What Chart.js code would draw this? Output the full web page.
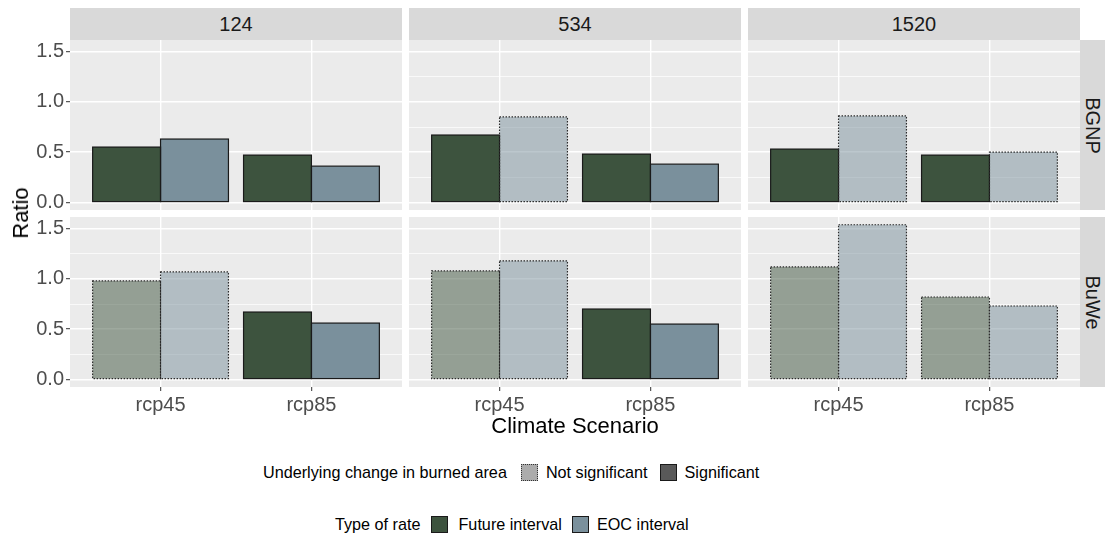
<!DOCTYPE html>
<html>
<head>
<meta charset="utf-8">
<script src="https://cdn.jsdelivr.net/npm/chart.js@4.4.1/dist/chart.umd.min.js"></script>
<style>
  body { margin: 0; background: #fff; font-family: "Liberation Sans", Arial, sans-serif; }
  #wrap { position: relative; width: 1105px; height: 537px; overflow: hidden; }
  #wrap canvas { position: absolute; }
  .strip { position: absolute; background: #d9d9d9; color: #1a1a1a; font-size: 20px;
           display: flex; align-items: center; justify-content: center; }
  .strip.right span { transform: rotate(90deg); white-space: nowrap; }
  .title { position: absolute; font-size: 22px; color: #000; white-space: nowrap; }
  .legend { position: absolute; display: flex; align-items: center; font-size: 16.2px; color: #000;
            white-space: nowrap; height: 20px; }
  .sw { display: inline-block; width: 17px; height: 17px; box-sizing: border-box; }
</style>
</head>
<body>
<div id="wrap"></div>
<script>
// facets and categories
const sites = ['124', '534', '1520'];
const regions = ['BGNP', 'BuWe'];
const scenarios = ['rcp45', 'rcp85'];
const yBreaks = [0, 0.5, 1.0, 1.5];
const yMinorBreaks = [0.25, 0.75, 1.25];

// ratio per site, each pair is [rcp45, rcp85]
const bgnpFuture = [[0.55, 0.47], [0.67, 0.48], [0.53, 0.47]];
const bgnpEoc = [[0.63, 0.36], [0.85, 0.38], [0.86, 0.50]];
const buweFuture = [[0.98, 0.67], [1.08, 0.70], [1.12, 0.82]];
const buweEoc = [[1.07, 0.56], [1.18, 0.55], [1.54, 0.73]];

// 1 = significant underlying change in burned area, 0 = not significant
const bgnpFutureSig = [[1, 1], [1, 1], [1, 1]];
const bgnpEocSig = [[1, 1], [0, 1], [0, 0]];
const buweFutureSig = [[0, 1], [0, 1], [0, 0]];
const buweEocSig = [[0, 1], [0, 1], [0, 0]];

const futureColor = '#3d533e';
const futureFaded = 'rgba(61, 83, 62, 0.5)';
const eocColor = '#7a909c';
const eocFaded = 'rgba(122, 144, 156, 0.5)';

// panel geometry (pixels)
const colLeft = [70, 409, 748];
const panelW = 332;
const rowTop = [40, 217];
const panelH = 170;

Chart.defaults.font.family = '"Liberation Sans", Arial, sans-serif';
Chart.defaults.animation = false;

const wrap = document.getElementById('wrap');

// ggplot style scale limits: 5% expansion, shared over all facets
const allValues = [bgnpFuture, bgnpEoc, buweFuture, buweEoc].flat(2);
const dataMax = Math.max(...allValues);
const yMax = dataMax * 1.05;
const yMin = -dataMax * 0.05;
const allBreaks = [...yBreaks, ...yMinorBreaks].sort((a, b) => a - b);

// grey panel background behind the grid
const panelBg = {
    id: 'panelBg',
    beforeDraw(chart) {
        const { ctx, chartArea: a } = chart;
        ctx.save();
        ctx.fillStyle = '#ebebeb';
        ctx.fillRect(a.left, a.top, a.width, a.height);
        ctx.restore();
    }
};

// bar outlines: solid when significant, dotted when not
const barOutline = {
    id: 'barOutline',
    afterDatasetsDraw(chart) {
        const ctx = chart.ctx;
        chart.data.datasets.forEach((ds, i) => {
            chart.getDatasetMeta(i).data.forEach((bar, j) => {
                const { x, y, base, width } = bar.getProps(['x', 'y', 'base', 'width'], true);
                ctx.save();
                ctx.lineWidth = 1.2;
                ctx.strokeStyle = ds.sig[j] ? '#1a1a1a' : '#2a2a2a';
                ctx.setLineDash(ds.sig[j] ? [] : [1.5, 1.5]);
                ctx.strokeRect(x - width / 2, y, width, base - y);
                ctx.restore();
            });
        });
    }
};

const makePanel = (row, col, future, futureSig, eoc, eocSig) => {
    const left = col === 0 ? 0 : colLeft[col];
    const yAxisW = colLeft[col] - left;
    const xAxisH = row === 1 ? 34 : 6;
    const canvas = document.createElement('canvas');
    canvas.width = colLeft[col] + panelW - left;
    canvas.height = panelH + xAxisH;
    canvas.style.left = left + 'px';
    canvas.style.top = rowTop[row] + 'px';
    wrap.appendChild(canvas);

    new Chart(canvas, {
        type: 'bar',
        data: {
            datasets: [{
                label: 'Future interval',
                data: future.map((v, i) => ({ x: i + 1, y: v })),
                sig: futureSig,
                backgroundColor: futureSig.map(s => s ? futureColor : futureFaded),
                borderWidth: 0
            }, {
                label: 'EOC interval',
                data: eoc.map((v, i) => ({ x: i + 1, y: v })),
                sig: eocSig,
                backgroundColor: eocSig.map(s => s ? eocColor : eocFaded),
                borderWidth: 0
            }]
        },
        options: {
            responsive: false,
            maintainAspectRatio: false,
            categoryPercentage: 0.9,
            barPercentage: 1.0,
            layout: { padding: 0 },
            plugins: { legend: { display: false }, tooltip: { enabled: false } },
            scales: {
                x: {
                    type: 'linear',
                    offset: false,
                    min: 0.4,
                    max: scenarios.length + 0.6,
                    afterBuildTicks: (axis) => { axis.ticks = scenarios.map((s, i) => ({ value: i + 1 })); },
                    afterFit: (axis) => {
                        axis.height = xAxisH;
                        axis.paddingLeft = axis.paddingRight = 0;
                    },
                    border: { display: false },
                    grid: {
                        offset: false,
                        color: '#ffffff',
                        lineWidth: 1.4,
                        drawTicks: row === 1,
                        tickLength: 4,
                        tickColor: '#333333',
                        tickWidth: 1
                    },
                    ticks: {
                        display: row === 1,
                        padding: 2,
                        color: '#4d4d4d',
                        font: { size: 20 },
                        maxRotation: 0,
                        callback: (v) => scenarios[v - 1]
                    }
                },
                y: {
                    min: yMin,
                    max: yMax,
                    afterBuildTicks: (axis) => { axis.ticks = allBreaks.map(v => ({ value: v })); },
                    afterFit: (axis) => {
                        axis.width = yAxisW;
                        axis.paddingTop = axis.paddingBottom = 0;
                    },
                    border: { display: false },
                    grid: {
                        color: '#ffffff',
                        lineWidth: (c) => yBreaks.includes(c.tick.value) ? 1.4 : 0.7,
                        drawTicks: col === 0,
                        tickLength: 4,
                        tickColor: (c) => yBreaks.includes(c.tick.value) ? '#333333' : 'rgba(0,0,0,0)',
                        tickWidth: 1
                    },
                    ticks: {
                        display: col === 0,
                        padding: 2,
                        color: '#4d4d4d',
                        font: { size: 20 },
                        callback: (v) => yBreaks.includes(v) ? v.toFixed(1) : ''
                    }
                }
            }
        },
        plugins: [panelBg, barOutline]
    });
};

sites.forEach((site, col) => {
    makePanel(0, col, bgnpFuture[col], bgnpFutureSig[col], bgnpEoc[col], bgnpEocSig[col]);
    makePanel(1, col, buweFuture[col], buweFutureSig[col], buweEoc[col], buweEocSig[col]);

    const strip = document.createElement('div');
    strip.className = 'strip';
    strip.style.cssText = `left:${colLeft[col]}px;top:8px;width:${panelW}px;height:32px;`;
    strip.textContent = site;
    wrap.appendChild(strip);
});

regions.forEach((region, row) => {
    const strip = document.createElement('div');
    strip.className = 'strip right';
    strip.style.cssText = `left:${colLeft[2] + panelW}px;top:${rowTop[row]}px;width:25px;height:${panelH}px;`;
    strip.innerHTML = `<span>${region}</span>`;
    wrap.appendChild(strip);
});

// axis titles
const xTitle = document.createElement('div');
xTitle.className = 'title';
xTitle.textContent = 'Climate Scenario';
xTitle.style.cssText = 'left:575px;top:426px;transform:translate(-50%,-50%);';
wrap.appendChild(xTitle);

const yTitle = document.createElement('div');
yTitle.className = 'title';
yTitle.textContent = 'Ratio';
yTitle.style.cssText = 'left:21px;top:213px;transform:translate(-50%,-50%) rotate(-90deg);';
wrap.appendChild(yTitle);

// legends
const legend1 = document.createElement('div');
legend1.className = 'legend';
legend1.style.cssText = 'left:263px;top:462px;';
legend1.innerHTML =
    '<span>Underlying change in burned area</span>' +
    '<i class="sw" style="margin-left:14px;background:#acacac;border:1px dotted #333;"></i>' +
    '<span style="margin-left:8px">Not significant</span>' +
    '<i class="sw" style="margin-left:12px;background:#595959;border:1px solid #1a1a1a;"></i>' +
    '<span style="margin-left:8px">Significant</span>';
wrap.appendChild(legend1);

const legend2 = document.createElement('div');
legend2.className = 'legend';
legend2.style.cssText = 'left:335px;top:514px;';
legend2.innerHTML =
    '<span>Type of rate</span>' +
    `<i class="sw" style="margin-left:11px;background:${futureColor};border:1px solid #1a1a1a;"></i>` +
    '<span style="margin-left:10px">Future interval</span>' +
    `<i class="sw" style="margin-left:10px;background:${eocColor};border:1px solid #1a1a1a;"></i>` +
    '<span style="margin-left:8px">EOC interval</span>';
wrap.appendChild(legend2);
</script>
</body>
</html>
